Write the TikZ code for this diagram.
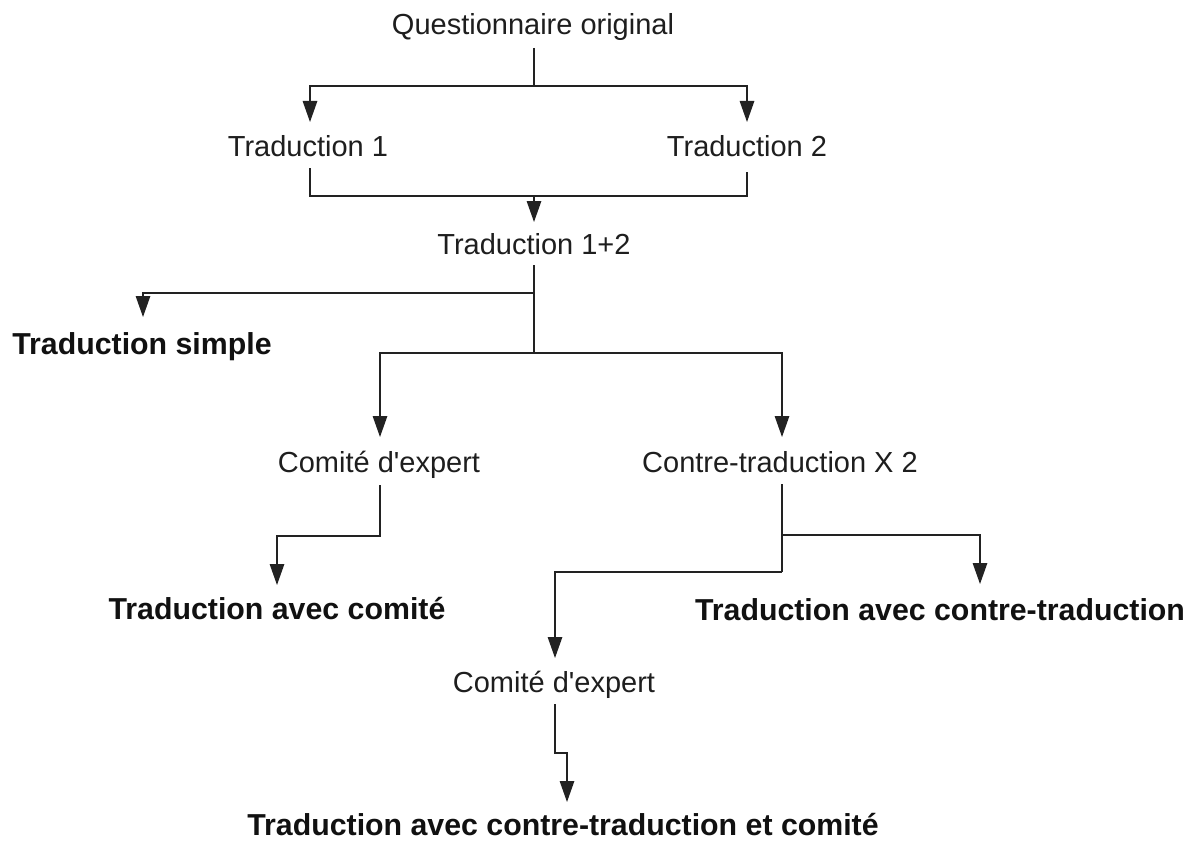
\documentclass[tikz,border=0pt]{standalone}
\usepackage{fontspec}
\newfontfamily\arialf{Liberation Sans}
\usetikzlibrary{arrows.meta}
\definecolor{txt}{HTML}{1E1E1E}
\definecolor{txtb}{HTML}{111111}
\definecolor{ln}{HTML}{222222}
\begin{document}
\begin{tikzpicture}[x=1pt,y=-1pt,
  lbl/.style={font=\arialf\fontsize{29}{34}\selectfont, text=txt, inner sep=0pt, anchor=base},
  res/.style={font=\arialf\bfseries\fontsize{30.3}{36}\selectfont, text=txtb, inner sep=0pt, anchor=base},
  conn/.style={draw=ln, line width=1.3pt},
  arr/.style={conn, -{Triangle[length=21pt,width=14.5pt]}}]
\useasboundingbox[fill=white] (0,0) rectangle (1201,840);

% nodes
\node[lbl] (Q)    at (533,35)  {Questionnaire original};
\node[lbl] (T1)   at (308,157) {Traduction 1};
\node[lbl] (T2)   at (747,157) {Traduction 2};
\node[lbl] (T12)  at (534,254) {Traduction 1+2};
\node[res] (TS)   at (142,354) {Traduction simple};
\node[lbl] (CE1)  at (379,472) {Comité d'expert};
\node[lbl] (CT)   at (780,472) {Contre-traduction X 2};
\node[res] (TAC)  at (277,619) {Traduction avec comité};
\node[res] (TACT) at (940,620) {Traduction avec contre-traduction};
\node[lbl] (CE2)  at (554,692) {Comité d'expert};
\node[res] (TF)   at (563,835) {Traduction avec contre-traduction et comité};

% connector points
\coordinate (Qb)   at (534,48);
\coordinate (J1)   at (534,86);
\coordinate (T1t)  at (310,122);
\coordinate (T2t)  at (747,122);
\coordinate (T1b)  at (310,168);
\coordinate (T2b)  at (747,172);
\coordinate (J2)   at (534,196);
\coordinate (T12t) at (534,222);
\coordinate (T12b) at (534,265);
\coordinate (J3)   at (534,293);
\coordinate (J4)   at (534,353);
\coordinate (TSt)  at (143,317);
\coordinate (CE1t) at (380,437);
\coordinate (CTt)  at (782,437);
\coordinate (CE1b) at (380,485);
\coordinate (J5)   at (380,536);
\coordinate (TACt) at (277,585);
\coordinate (CTb)  at (782,484);
\coordinate (J6)   at (782,535);
\coordinate (J7)   at (782,572);
\coordinate (TACTt) at (980,584);
\coordinate (CE2t) at (555,658);
\coordinate (CE2b) at (555,704);
\coordinate (J8)   at (555,753);
\coordinate (TFt)  at (567,802);

% connectors
\draw[conn] (Qb) -- (J1);
\draw[arr] (J1) -| (T1t);
\draw[arr] (J1) -| (T2t);
\draw[conn] (T1b) |- (J2) -| (T2b);
\draw[arr] (J2) -- (T12t);
\draw[conn] (T12b) -- (J4);
\draw[arr] (J3) -| (TSt);
\draw[arr] (J4) -| (CE1t);
\draw[arr] (J4) -| (CTt);
\draw[arr] (CE1b) -- (J5) -| (TACt);
\draw[conn] (CTb) -- (J7);
\draw[arr] (J6) -| (TACTt);
\draw[arr] (J7) -| (CE2t);
\draw[arr] (CE2b) -- (J8) -| (TFt);
\end{tikzpicture}
\end{document}
